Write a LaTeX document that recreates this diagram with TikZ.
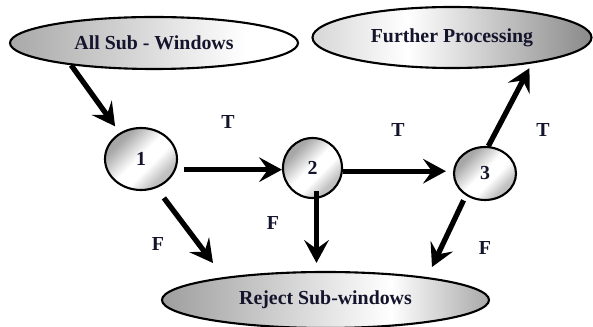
\documentclass[tikz,border=0pt]{standalone}
\usepackage{fontspec}
\setmainfont{Liberation Serif}[BoldFont={Liberation Serif Bold}]
\newfontfamily\captionface{Liberation Serif Bold}
\usetikzlibrary{arrows.meta,shapes.geometric,calc}

\newlength{\pxu}
\setlength{\pxu}{0.02cm}
\definecolor{ink}{HTML}{14142C}

% gradients for the filled shapes (path box maps onto 25bp--75bp)
\pgfdeclarehorizontalshading{shadeall}{100bp}{color(0bp)=(black!34); color(25bp)=(black!34); color(66bp)=(white); color(100bp)=(white)}
\pgfdeclarehorizontalshading{shadefurther}{100bp}{color(0bp)=(black!16); color(25bp)=(black!16); color(42bp)=(white); color(75bp)=(black!46); color(100bp)=(black!46)}
\pgfdeclarehorizontalshading{shadereject}{100bp}{color(0bp)=(black!38); color(25bp)=(black!38); color(60bp)=(white); color(75bp)=(black!34); color(100bp)=(black!34)}
\pgfdeclarehorizontalshading{shadeball}{100bp}{color(0bp)=(black!42); color(30bp)=(black!34); color(48bp)=(white); color(58bp)=(white); color(70bp)=(black!24); color(100bp)=(black!34)}

\tikzset{
  lettering/.style={font=\captionface\fontsize{11.3}{13}\selectfont, text=ink},
  oval/.style={ellipse, draw=black, line width=1.2pt, inner sep=0pt, lettering},
  decision/.style={oval, shading=shadeball, shading angle=-45},
  flow/.style={line width=3pt, -{Stealth[length=13pt,width=14pt,inset=5pt]}},
  branch/.style={lettering, inner sep=0pt},
}

\begin{document}
\begin{tikzpicture}[x=0.02cm, y=-0.02cm]
  \useasboundingbox (0,0) rectangle (593,327);

  % terminal ovals
  \node[oval, shading=shadeall, minimum width=288\pxu, minimum height=52\pxu]
    (all) at (154,43) {All Sub - Windows};
  \node[oval, shading=shadefurther, minimum width=279\pxu, minimum height=61\pxu]
    (further) at (452,37.5) {Further Processing};
  \node[oval, shading=shadereject, minimum width=327\pxu, minimum height=56\pxu]
    (reject) at (325.5,300) {Reject Sub-windows};

  % decision stages
  \node[decision, minimum width=72\pxu, minimum height=62\pxu] (n1) at (141,159) {1};
  \node[decision, minimum width=59\pxu, minimum height=60\pxu] (n2) at (312.5,168) {2};
  \node[decision, minimum width=62\pxu, minimum height=53\pxu] (n3) at (485,173.5) {3};

  % free ends of the rejection arrows
  \coordinate (r1) at (213,263);
  \coordinate (r3) at (432,267);

  % connectors
  \draw[flow, shorten >=4.5pt] (all.195.5) -- (n1.129);
  \draw[flow, shorten <=4.5pt] (n1.-17) -- (n1.-17 -| n2.west);
  \draw[flow, shorten <=7pt] (n1.-62) -- (r1);
  \draw[flow] ([shift={(4,-8)}]n2.south) -- ([shift={(4,-8)}]n2.south |- reject.north);
  \draw[flow, shorten >=4pt] (n2.-6) -- (n2.-6 -| n3.west);
  \draw[flow, shorten >=3pt] (n3.83) -- (further.-18.3);
  \draw[flow, shorten <=3pt] (n3.229.8) -- (r3);

  % branch labels
  \node[branch] (t1) at (228,122) {T};
  \node[branch] (t2) at (398,130) {T};
  \node[branch] (t3) at (543,130) {T};
  \node[branch] (f1) at (158,244) {F};
  \node[branch] (f2) at (273,223) {F};
  \node[branch] (f3) at (485,248) {F};
\end{tikzpicture}
\end{document}
